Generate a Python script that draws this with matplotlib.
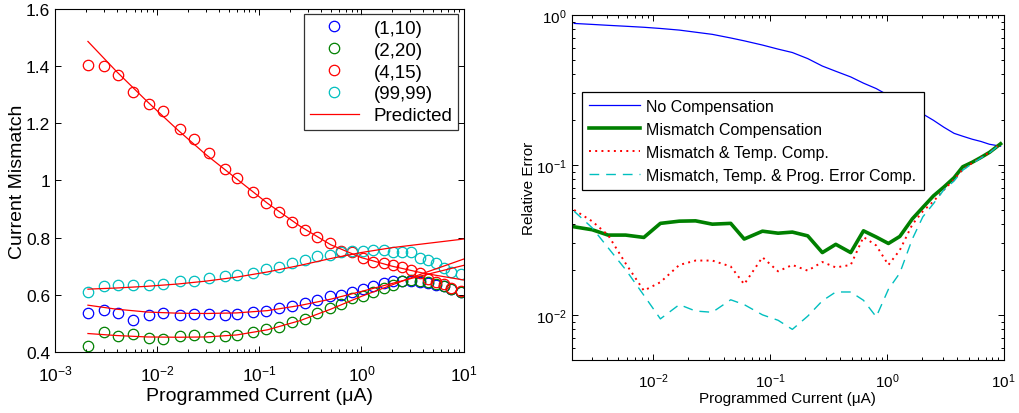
import numpy as np
import matplotlib
matplotlib.use('Agg')
import matplotlib.pyplot as plt
from matplotlib.ticker import LogLocator, NullFormatter

plt.rcParams['font.family'] = ['Liberation Sans', 'DejaVu Sans']
plt.rcParams['mathtext.fontset'] = 'custom'
plt.rcParams['mathtext.rm'] = 'Liberation Sans'

# programmed current (uA), shared by both panels
current = [0.0021, 0.0030, 0.0041, 0.0058, 0.0083, 0.0115, 0.0167, 0.023, 0.032, 0.046,
           0.060, 0.086, 0.117, 0.155, 0.21, 0.28, 0.365, 0.49, 0.63, 0.81,
           1.03, 1.29, 1.65, 2.03, 2.5, 3.07, 3.76, 4.46, 5.38, 6.39, 7.55, 9.4]

# left panel: measured mismatch per device
mm_1_10 = [0.535, 0.548, 0.536, 0.513, 0.529, 0.535, 0.529, 0.533, 0.533, 0.529,
           0.533, 0.541, 0.544, 0.553, 0.560, 0.571, 0.583, 0.595, 0.599, 0.609,
           0.620, 0.632, 0.640, 0.647, 0.649, 0.649, 0.646, 0.640, 0.634, 0.632, 0.619, 0.611]
mm_2_20 = [0.422, 0.472, 0.455, 0.465, 0.448, 0.445, 0.455, 0.459, 0.454, 0.457,
           0.460, 0.472, 0.480, 0.488, 0.504, 0.515, 0.535, 0.553, 0.568, 0.588,
           0.597, 0.611, 0.623, 0.634, 0.649, 0.653, 0.649, 0.644, 0.638, 0.630, 0.620, 0.611]
mm_4_15 = [1.403, 1.398, 1.369, 1.310, 1.267, 1.242, 1.180, 1.145, 1.095, 1.040,
           1.008, 0.960, 0.921, 0.891, 0.853, 0.828, 0.803, 0.781, 0.752, 0.749,
           0.728, 0.716, 0.710, 0.705, 0.698, 0.688, 0.676, 0.655, 0.645, 0.638, 0.625, 0.613]
mm_99_99 = [0.611, 0.630, 0.634, 0.636, 0.634, 0.638, 0.649, 0.649, 0.658, 0.665,
            0.669, 0.676, 0.690, 0.698, 0.710, 0.722, 0.737, 0.740, 0.749, 0.752,
            0.754, 0.758, 0.758, 0.751, 0.751, 0.751, 0.729, 0.722, 0.710, 0.693, 0.681, 0.673]

# predicted curves
pred_x = [0.0021, 0.004, 0.008, 0.016, 0.03, 0.06, 0.12, 0.25, 0.5, 1.0, 2.0, 4.0, 10.0]
pred_1_10 = [0.564, 0.550, 0.540, 0.536, 0.535, 0.537, 0.545, 0.563, 0.585, 0.612, 0.640, 0.668, 0.703]
pred_2_20 = [0.465, 0.458, 0.453, 0.452, 0.453, 0.460, 0.478, 0.510, 0.550, 0.595, 0.635, 0.675, 0.725]
pred_4_15 = [1.485, 1.380, 1.275, 1.175, 1.090, 1.005, 0.920, 0.840, 0.775, 0.730, 0.700, 0.676, 0.652]
pred_99_99 = [0.620, 0.624, 0.630, 0.638, 0.648, 0.662, 0.680, 0.703, 0.727, 0.748, 0.765, 0.778, 0.795]

# right panel: relative error
err_none = [0.875, 0.862, 0.850, 0.838, 0.825, 0.810, 0.790, 0.765, 0.740, 0.700,
            0.670, 0.628, 0.590, 0.560, 0.510, 0.455, 0.420, 0.385, 0.350, 0.322,
            0.290, 0.260, 0.235, 0.218, 0.198, 0.178, 0.162, 0.155, 0.148, 0.143, 0.137, 0.133]
err_mm = [0.0386, 0.0369, 0.0340, 0.0340, 0.0328, 0.0407, 0.0421, 0.0423, 0.0402, 0.0407,
          0.0320, 0.0361, 0.0350, 0.0356, 0.0336, 0.0260, 0.0295, 0.0260, 0.0363, 0.0330,
          0.0299, 0.0333, 0.0436, 0.052, 0.062, 0.071, 0.082, 0.097, 0.104, 0.112, 0.121, 0.138]
err_mm_temp = [0.050, 0.042, 0.034, 0.022, 0.0145, 0.0165, 0.0215, 0.023, 0.023, 0.021,
               0.016, 0.0242, 0.0195, 0.0215, 0.0197, 0.0225, 0.0207, 0.0215, 0.033, 0.029,
               0.0215, 0.027, 0.040, 0.049, 0.057, 0.068, 0.080, 0.093, 0.103, 0.112, 0.121, 0.138]
err_all = [0.049, 0.038, 0.028, 0.020, 0.0135, 0.0094, 0.0117, 0.0106, 0.0104, 0.0126,
           0.0117, 0.0100, 0.0092, 0.0080, 0.0098, 0.0124, 0.0142, 0.0142, 0.0125, 0.0097,
           0.0148, 0.019, 0.032, 0.045, 0.055, 0.068, 0.078, 0.092, 0.102, 0.111, 0.120, 0.138]

BLUE, GREEN, RED, CYAN = '#0000ff', '#008000', '#ff0000', '#00bfbf'

fig = plt.figure(figsize=(10.19, 4.14), dpi=100)
ax1 = fig.add_axes([0.054, 0.147, 0.401, 0.830])
ax2 = fig.add_axes([0.561, 0.128, 0.424, 0.834])

def matlab_ticks(ax, size, pad):
    ax.tick_params(which='both', direction='in', top=True, right=True, labelsize=size, width=0.7)
    ax.tick_params(which='major', length=4)
    ax.tick_params(which='minor', length=2)
    ax.tick_params(axis='x', which='both', pad=pad)
    for s in ax.spines.values():
        s.set_linewidth(0.8)

# ---- left panel
mk = dict(marker='o', ls='none', mfc='none', ms=7.5, mew=0.9)
ax1.plot(current, mm_1_10, color=BLUE, label='(1,10)', **mk)
ax1.plot(current, mm_2_20, color=GREEN, label='(2,20)', **mk)
ax1.plot(current, mm_4_15, color=RED, label='(4,15)', **mk)
ax1.plot(current, mm_99_99, color=CYAN, label='(99,99)', **mk)
ax1.plot(pred_x, pred_1_10, color=RED, lw=0.9, label='Predicted')
for p in (pred_2_20, pred_4_15, pred_99_99):
    ax1.plot(pred_x, p, color=RED, lw=0.9)
ax1.set_xscale('log')
ax1.set_xlim(1e-3, 10)
ax1.set_ylim(0.4, 1.6)
ax1.set_yticks([0.4, 0.6, 0.8, 1.0, 1.2, 1.4, 1.6])
ax1.set_yticklabels(['0.4', '0.6', '0.8', '1', '1.2', '1.4', '1.6'])
ax1.xaxis.set_minor_locator(LogLocator(base=10, subs=np.arange(2, 10)))
ax1.xaxis.set_minor_formatter(NullFormatter())
matlab_ticks(ax1, 12.5, 8)
ax1.set_xlabel('Programmed Current (μA)', fontsize=14, labelpad=3)
ax1.set_ylabel('Current Mismatch', fontsize=14, labelpad=0)
leg1 = ax1.legend(loc='upper right', fontsize=13.5, frameon=True, fancybox=False,
                  edgecolor='black', handlelength=2.6, borderaxespad=0.3,
                  labelspacing=0.25, handletextpad=0.8, borderpad=0.3)
leg1.get_frame().set_linewidth(0.9)

# ---- right panel
ax2.plot(current, err_none, color=BLUE, lw=0.9, label='No Compensation')
ax2.plot(current, err_mm, color=GREEN, lw=2.6, label='Mismatch Compensation')
ax2.plot(current, err_mm_temp, color=RED, lw=1.4, ls=(0, (1, 2.2)), label='Mismatch & Temp. Comp.')
ax2.plot(current, err_all, color=CYAN, lw=1.0, ls=(0, (7, 5)), label='Mismatch, Temp. & Prog. Error Comp.')
ax2.set_xscale('log')
ax2.set_yscale('log')
ax2.set_xlim(0.002, 10)
ax2.set_ylim(0.005, 1)
ax2.xaxis.set_minor_locator(LogLocator(base=10, subs=np.arange(2, 10)))
ax2.yaxis.set_minor_locator(LogLocator(base=10, subs=np.arange(2, 10)))
ax2.xaxis.set_minor_formatter(NullFormatter())
ax2.yaxis.set_minor_formatter(NullFormatter())
matlab_ticks(ax2, 11, 8)
ax2.set_xlabel('Programmed Current (μA)', fontsize=11, labelpad=1)
ax2.set_ylabel('Relative Error', fontsize=11, labelpad=0)
leg2 = ax2.legend(loc='upper left', bbox_to_anchor=(0.023, 0.777), fontsize=11.5,
                  frameon=True, fancybox=False, edgecolor='black', framealpha=1,
                  handlelength=3.2, borderaxespad=0, labelspacing=0.5,
                  handletextpad=0.4, borderpad=0.45)
leg2.get_frame().set_linewidth(0.9)

fig.savefig('out.png', dpi=100)
